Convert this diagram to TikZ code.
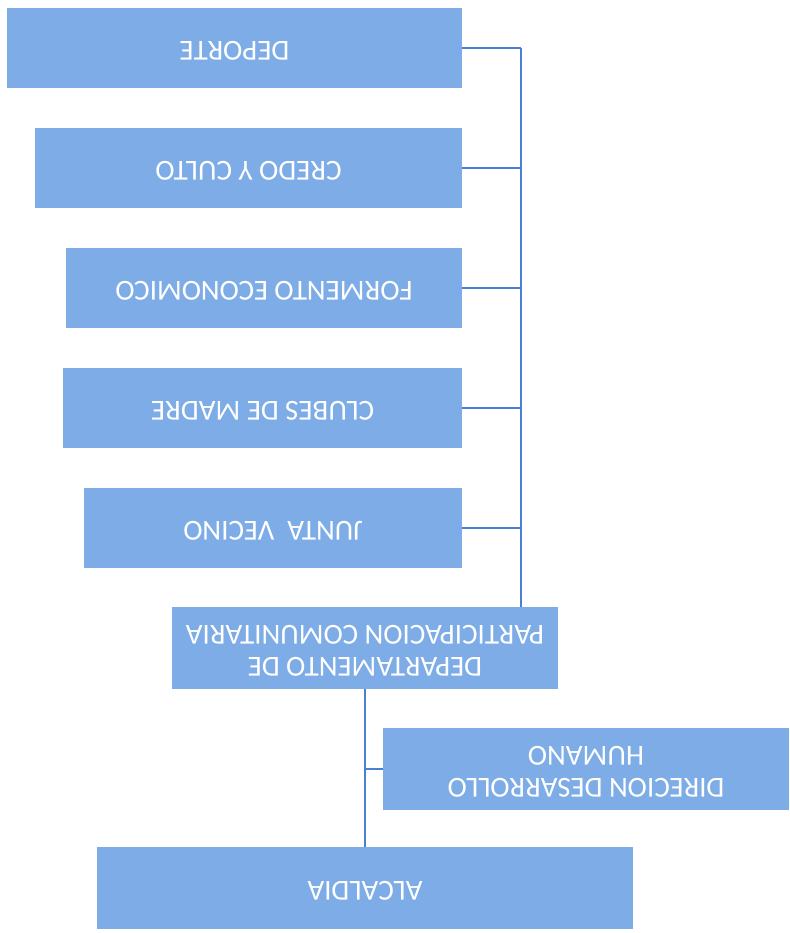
\documentclass[tikz,border=0pt]{standalone}
\usepackage{fontspec}
\usepackage{graphicx}
\setmainfont{Carlito}
\definecolor{boxblue}{HTML}{7DACE6}
\definecolor{lineblue}{HTML}{4A7FD6}
\newcommand{\flip}[1]{\rotatebox{180}{\begin{tabular}{@{}c@{}}#1\end{tabular}}}
\tikzset{
  orgbox/.style={fill=boxblue, draw=none, inner sep=0pt, outer sep=0pt,
    minimum height=80pt, text=white, font=\fontsize{29}{32}\selectfont},
  link/.style={draw=lineblue, line width=1.8pt}
}
\begin{document}
\begin{tikzpicture}[x=1pt,y=-1pt]
\useasboundingbox (0,0) rectangle (789,933);
\fill[white] (0,0) rectangle (789,933);
\node[orgbox, minimum width=455pt] (dep) at (234.5,48) {\flip{DEPORTE}};
\node[orgbox, minimum width=427pt] (cre) at (248.5,168) {\flip{CREDO Y CULTO}};
\node[orgbox, minimum width=396pt] (for) at (264,288) {\flip{FORMENTO ECONOMICO}};
\node[orgbox, minimum width=399pt] (clu) at (262.5,408) {\flip{CLUBES DE MADRE}};
\node[orgbox, minimum width=378pt] (jun) at (273,528) {\flip{JUNTA\ \ VECINO}};
\node[orgbox, minimum width=386pt, minimum height=82pt] (dpc) at (365,648) {\flip{DEPARTAMENTO DE\\PARTICIPACION COMUNITARIA}};
\node[orgbox, minimum width=406pt, minimum height=82pt] (dir) at (586,769) {\flip{DIRECION DESARROLLO\\HUMANO}};
\node[orgbox, minimum width=536pt, minimum height=82pt] (alc) at (365,888) {\flip{ALCALDIA}};
\coordinate (bus) at (521,0);
\foreach \n in {dep,cre,for,clu,jun}{
  \draw[link] (\n.east) -- (\n.east -| bus);
}
\draw[link] (dep.east -| bus) -- (dpc.north -| bus);
\draw[link] (dpc.south) -- (alc.north);
\draw[link] (dir.west) -- (dir.west -| dpc.south);
\end{tikzpicture}
\end{document}
